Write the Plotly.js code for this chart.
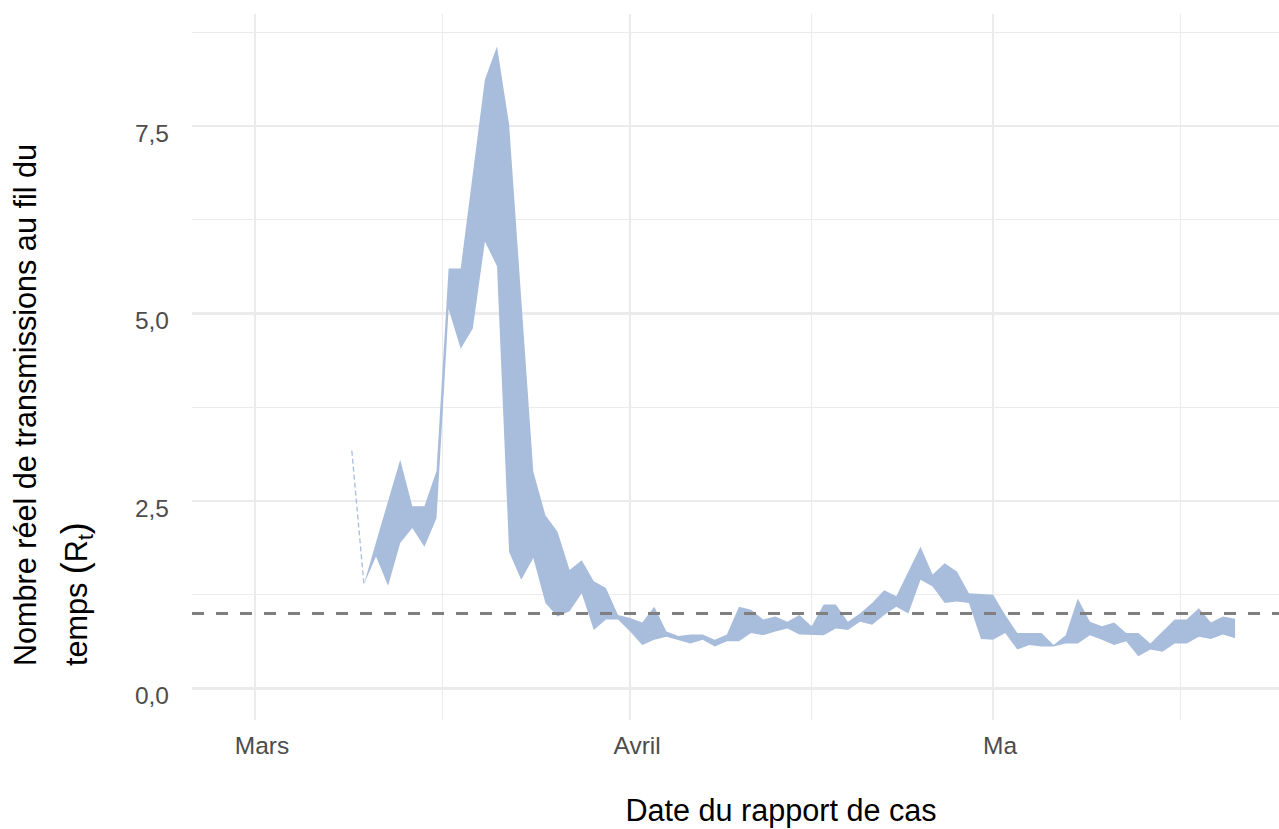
<!DOCTYPE html>
<html>
<head>
<meta charset="utf-8">
<script src="https://cdn.plot.ly/plotly-3.0.1.min.js"></script>
<style>
html, body { margin: 0; padding: 0; overflow: hidden; background: #ffffff; }
#chart { width: 1384px; height: 829px; }
</style>
</head>
<body>
<div id="chart"></div>
<script>
// ---- Data ----
const dates = [
  '2020-03-09','2020-03-10','2020-03-11','2020-03-12','2020-03-13','2020-03-14','2020-03-15','2020-03-16',
  '2020-03-17','2020-03-18','2020-03-19','2020-03-20','2020-03-21','2020-03-22','2020-03-23','2020-03-24',
  '2020-03-25','2020-03-26','2020-03-27','2020-03-28','2020-03-29','2020-03-30','2020-03-31',
  '2020-04-01','2020-04-02','2020-04-03','2020-04-04','2020-04-05','2020-04-06','2020-04-07','2020-04-08',
  '2020-04-09','2020-04-10','2020-04-11','2020-04-12','2020-04-13','2020-04-14','2020-04-15','2020-04-16',
  '2020-04-17','2020-04-18','2020-04-19','2020-04-20','2020-04-21','2020-04-22','2020-04-23','2020-04-24',
  '2020-04-25','2020-04-26','2020-04-27','2020-04-28','2020-04-29','2020-04-30',
  '2020-05-01','2020-05-02','2020-05-03','2020-05-04','2020-05-05','2020-05-06','2020-05-07','2020-05-08',
  '2020-05-09','2020-05-10','2020-05-11','2020-05-12','2020-05-13','2020-05-14','2020-05-15','2020-05-16',
  '2020-05-17','2020-05-18','2020-05-19','2020-05-20','2020-05-21'
];
const rtLower = [
  3.17, 1.39, 1.76, 1.37, 1.94, 2.14, 1.89, 2.27,
  5.06, 4.53, 4.80, 5.96, 5.63, 1.82, 1.45, 1.74,
  1.14, 0.96, 1.03, 1.27, 0.78, 0.92, 0.92,
  0.76, 0.58, 0.65, 0.69, 0.65, 0.60, 0.65, 0.56,
  0.63, 0.63, 0.74, 0.71, 0.76, 0.80, 0.72, 0.71,
  0.71, 0.80, 0.78, 0.89, 0.85, 0.98, 1.09, 1.00,
  1.45, 1.36, 1.14, 1.16, 1.14, 0.66,
  0.65, 0.74, 0.52, 0.58, 0.56, 0.56, 0.60, 0.60,
  0.71, 0.65, 0.58, 0.63, 0.43, 0.52, 0.49, 0.60,
  0.60, 0.69, 0.66, 0.72, 0.67
];
const rtUpper = [
  3.17, 1.39, 1.95, 2.50, 3.05, 2.43, 2.43, 2.90,
  5.60, 5.60, 6.89, 8.12, 8.56, 7.52, 5.20, 2.89,
  2.31, 2.09, 1.58, 1.71, 1.43, 1.34, 0.98,
  0.94, 0.88, 1.09, 0.76, 0.70, 0.72, 0.72, 0.65,
  0.72, 1.09, 1.05, 0.92, 0.96, 0.89, 0.98, 0.83,
  1.12, 1.12, 0.89, 1.00, 1.14, 1.31, 1.23, 1.56,
  1.89, 1.52, 1.67, 1.56, 1.27, 1.26,
  1.25, 0.98, 0.74, 0.74, 0.74, 0.58, 0.71, 1.20,
  0.89, 0.83, 0.88, 0.74, 0.74, 0.60, 0.76, 0.92,
  0.92, 1.07, 0.88, 0.96, 0.93
];
const threshold = 1;
const xTickDates = ['2020-03-01', '2020-04-01', '2020-05-01'];
const xTickLabels = ['Mars', 'Avril', 'Ma'];
const xMinorDates = ['2020-03-16 12:00', '2020-04-16', '2020-05-16 12:00'];
const yTickVals = [0, 2.5, 5, 7.5];
const yTickLabels = ['0,0', '2,5', '5,0', '7,5'];
const yMinorVals = [1.25, 3.75, 6.25, 8.75];
const yTitleLine1 = 'Nombre réel de transmissions au fil du';
const yTitleLine2 = 'temps <span style="font-size:36px">(</span>R<sub>t</sub><span style="font-size:36px">)</span>';
const xTitle = 'Date du rapport de cas';

// ---- Styling ----
const ribbonColor = '#A8BCDC';
const gridColor = '#EBEBEB';
const fontFamily = '"Liberation Sans", Arial, Helvetica, sans-serif';
const plotLeft = 192, plotWidth = 1178, plotTop = 14, plotHeight = 706;

const traces = [
  {
    x: dates, y: rtLower, type: 'scatter', mode: 'lines',
    line: { width: 0, color: ribbonColor }, hoverinfo: 'skip', showlegend: false
  },
  {
    x: dates, y: rtUpper, type: 'scatter', mode: 'lines',
    fill: 'tonexty', fillcolor: ribbonColor,
    line: { width: 0, color: ribbonColor }, hoverinfo: 'skip', showlegend: false
  },
  {
    // first two days: zero-width ribbon drawn as a thin dashed outline
    x: dates.slice(0, 2), y: rtUpper.slice(0, 2), type: 'scatter', mode: 'lines',
    line: { width: 1.3, color: ribbonColor, dash: '5px,3px' }, hoverinfo: 'skip', showlegend: false
  }
];

const layout = {
  width: 1384, height: 829,
  margin: { l: plotLeft, r: 1384 - plotLeft - plotWidth, t: plotTop, b: 829 - plotTop - plotHeight, pad: 0 },
  paper_bgcolor: '#ffffff', plot_bgcolor: '#ffffff',
  font: { family: fontFamily, color: '#000000' },
  showlegend: false,
  xaxis: {
    type: 'date',
    range: ['2020-02-24 19:00', '2020-06-01 03:36'],
    tickvals: xTickDates, ticktext: xTickLabels,
    tickfont: { size: 24.5, color: '#4D4D4D', family: fontFamily },
    ticks: '', showline: false, zeroline: false,
    showgrid: true, gridcolor: gridColor, gridwidth: 2.6,
    ticklabelstandoff: 8, ticklabelshift: 7,
    minor: { tickvals: xMinorDates, showgrid: true, gridcolor: gridColor, gridwidth: 1.3, ticks: '' },
    title: { text: xTitle, font: { size: 30.6, color: '#000000', family: fontFamily }, standoff: 42 }
  },
  yaxis: {
    range: [-0.42, 8.993],
    tickvals: yTickVals, ticktext: yTickLabels,
    tickfont: { size: 24.5, color: '#4D4D4D', family: fontFamily },
    ticks: '', showline: false, zeroline: false,
    showgrid: true, gridcolor: gridColor, gridwidth: 2.6,
    ticklabelstandoff: 22, ticklabelshift: 7,
    minor: { tickvals: yMinorVals, showgrid: true, gridcolor: gridColor, gridwidth: 1.3, ticks: '' }
  },
  shapes: [
    {
      type: 'line', xref: 'paper', x0: 0, x1: 1, yref: 'y', y0: threshold, y1: threshold,
      line: { color: '#7F7F7F', width: 2.8, dash: '12px,12px' }, layer: 'above'
    }
  ],
  annotations: [
    {
      text: yTitleLine1,
      textangle: -90, align: 'left',
      xref: 'paper', yref: 'paper',
      x: (6 - plotLeft) / plotWidth, xanchor: 'left',
      y: (plotTop + plotHeight - 668) / plotHeight, yanchor: 'bottom',
      showarrow: false,
      font: { size: 30.6, color: '#000000', family: fontFamily }
    },
    {
      text: yTitleLine2,
      textangle: -90, align: 'left',
      xref: 'paper', yref: 'paper',
      x: (52 - plotLeft) / plotWidth, xanchor: 'left',
      y: (plotTop + plotHeight - 668) / plotHeight, yanchor: 'bottom',
      showarrow: false,
      font: { size: 30.6, color: '#000000', family: fontFamily }
    }
  ]
};

Plotly.newPlot('chart', traces, layout, { staticPlot: true, displayModeBar: false });
</script>
</body>
</html>
